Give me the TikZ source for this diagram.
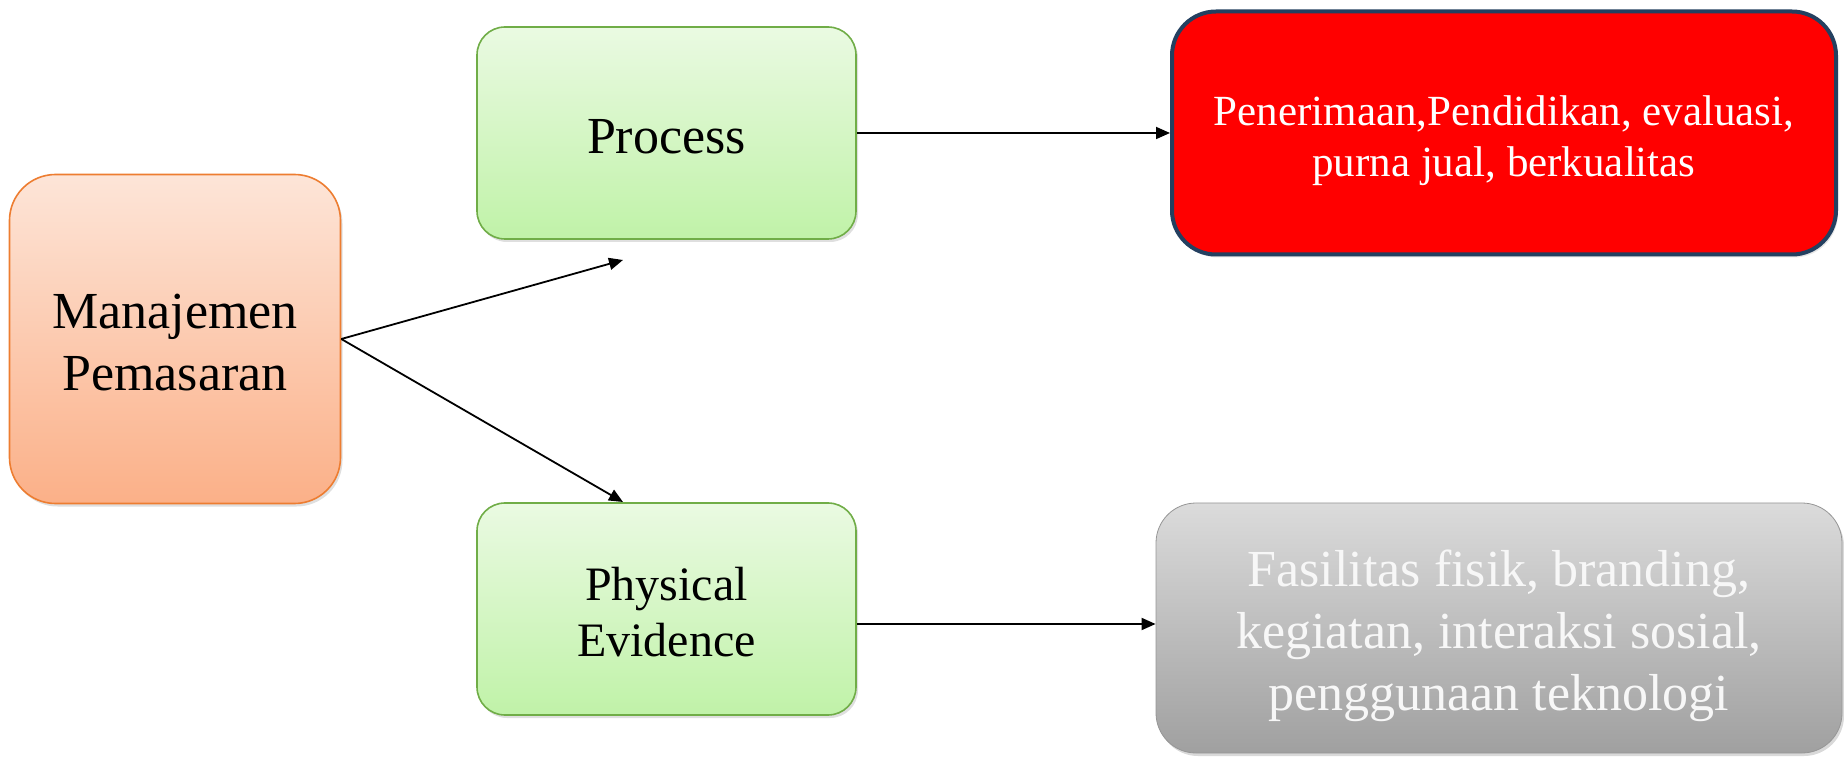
\documentclass[tikz,border=0pt]{standalone}
\usepackage{fontspec}
\setmainfont{Liberation Serif}
\usepackage{xcolor}
\usepackage{tikz}
\usetikzlibrary{arrows.meta, positioning, shadows, calc}
\definecolor{peachtop}{RGB}{253,229,216}
\definecolor{peachbot}{RGB}{251,176,136}
\definecolor{orangeline}{RGB}{237,125,49}
\definecolor{greentop}{RGB}{234,250,226}
\definecolor{greenbot}{RGB}{192,242,168}
\definecolor{greenline}{RGB}{112,173,71}
\definecolor{navyline}{RGB}{36,64,96}
\definecolor{graytop}{RGB}{219,219,219}
\definecolor{graybot}{RGB}{160,160,160}
\definecolor{grayline}{RGB}{150,150,150}

\begin{document}
\begin{tikzpicture}[
        x=0.5pt, y=-0.5pt,
        % Styles
        mainbox/.style={rectangle, rounded corners=23pt, draw=orangeline, thick,
                     top color=peachtop, bottom color=peachbot,
                     drop shadow={opacity=0.25, shadow xshift=1pt, shadow yshift=-1.5pt},
                     minimum width=165.5pt, minimum height=164.5pt, align=center,
                     font=\fontsize{26pt}{31pt}\selectfont},
        mixbox/.style={rectangle, rounded corners=14pt, draw=greenline, thick,
                     top color=greentop, bottom color=greenbot,
                     drop shadow={opacity=0.25, shadow xshift=1pt, shadow yshift=-1.5pt},
                     minimum width=189.5pt, minimum height=106pt, align=center},
        resultbox/.style={rectangle, rounded corners=22pt, draw=navyline, line width=2pt,
                     fill=red, text=white,
                     drop shadow={opacity=0.2, shadow xshift=1pt, shadow yshift=-1.5pt},
                     minimum width=332pt, minimum height=121.5pt, align=center,
                     font=\fontsize{21.5pt}{25.5pt}\selectfont},
        graybox/.style={rectangle, rounded corners=20pt, draw=grayline, thin,
                     top color=graytop, bottom color=graybot, text=white!94!gray,
                     drop shadow={opacity=0.3, shadow xshift=1pt, shadow yshift=-1.5pt},
                     minimum width=343pt, minimum height=125pt, align=center,
                     font=\fontsize{26pt}{31pt}\selectfont},
        arrow/.style={-{Triangle[length=7pt, width=6pt]}, line width=0.9pt, black},
    ]
    \useasboundingbox (0,0) rectangle (1844,759);

    % Left box
    \node[mainbox, text height=51.5pt] (manajemen) at (175,339) {Manajemen\\Pemasaran};

    % Middle boxes
    \node[mixbox, text height=20.5pt, font=\fontsize{26pt}{31pt}\selectfont] (process) at (666.5,133) {Process};
    \node[mixbox, text height=48pt, font=\fontsize{24pt}{28pt}\selectfont] (physical) at (666.5,609) {Physical\\Evidence};

    % Right boxes
    \node[resultbox, text height=48pt] (penerimaan) at (1504,133) {Penerimaan,Pendidikan, evaluasi,\\purna jual, berkualitas};
    \node[graybox, text height=88pt] (fasilitas) at (1499,628) {Fasilitas fisik, branding,\\kegiatan, interaksi sosial,\\penggunaan teknologi};

    % Free arrow ends
    \coordinate (toprocess) at (623,260);
    \coordinate (tophysical) at (623,502);

    % Arrows
    \draw[arrow] (manajemen.east) -- (toprocess);
    \draw[arrow] (manajemen.east) -- (tophysical);
    \draw[arrow] (process.east) -- (penerimaan.west);
    \draw[arrow] ([yshift=-7.5pt]physical.east) -- ([yshift=-7.5pt]physical.east -| fasilitas.west);

\end{tikzpicture}
\end{document}
